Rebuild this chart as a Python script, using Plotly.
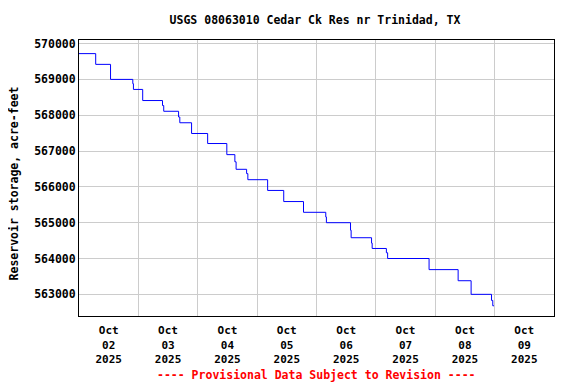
import plotly.graph_objects as go

times = [
    "2025-10-02 00:00", "2025-10-02 06:45", "2025-10-02 12:45", "2025-10-02 21:45",
    "2025-10-02 22:00", "2025-10-03 01:45", "2025-10-03 09:45", "2025-10-03 10:15",
    "2025-10-03 16:15", "2025-10-03 16:45", "2025-10-03 21:30", "2025-10-04 04:00",
    "2025-10-04 11:45", "2025-10-04 15:00", "2025-10-04 15:30", "2025-10-04 19:45",
    "2025-10-04 20:15", "2025-10-05 04:15", "2025-10-05 10:45", "2025-10-05 18:45",
    "2025-10-06 03:45", "2025-10-06 04:00", "2025-10-06 13:45", "2025-10-06 14:00",
    "2025-10-06 22:15", "2025-10-06 22:30", "2025-10-07 04:15", "2025-10-07 04:45",
    "2025-10-07 21:30", "2025-10-08 09:15", "2025-10-08 14:30", "2025-10-08 22:45",
    "2025-10-08 23:15", "2025-10-08 23:45",
]
storage = [
    569720, 569420, 569000, 568880,
    568720, 568410, 568270, 568110,
    567950, 567790, 567490, 567210,
    566900, 566700, 566490, 566370,
    566200, 565900, 565590, 565290,
    565160, 565000, 564790, 564580,
    564430, 564280, 564160, 564000,
    563690, 563380, 563000, 562830,
    562680, 562680,
]

tick_days = ["02", "03", "04", "05", "06", "07", "08", "09"]
tick_vals = [f"2025-10-{d} 12:00" for d in tick_days]
tick_text = [f"Oct<br>{d}<br>2025" for d in tick_days]
y_ticks = [563000, 564000, 565000, 566000, 567000, 568000, 569000, 570000]

FONT = "DejaVu Sans Mono"
fnt = dict(family=FONT, size=11.5, color="black", weight="bold")
xfnt = dict(family=FONT, size=11, color="black", weight="bold")

fig = go.Figure()
fig.add_trace(go.Scatter(
    x=times, y=storage, mode="lines", line=dict(color="#0000ff", width=1, shape="hv"),
    hoverinfo="x+y", showlegend=False,
))

fig.update_layout(
    width=568, height=376,
    margin=dict(l=71, r=22, t=32, b=68, autoexpand=False),
    paper_bgcolor="white", plot_bgcolor="white",
    font=fnt,
    title=dict(text="USGS 08063010 Cedar Ck Res nr Trinidad, TX", xref="container",
               x=0.5405, xanchor="center", y=0.968, yanchor="middle", font=fnt),
    xaxis=dict(
        type="date", range=["2025-10-02 00:00", "2025-10-10 00:00"],
        tickmode="array", tickvals=tick_vals, ticktext=tick_text,
        showgrid=False, ticks="", tickfont=xfnt, ticklabelstandoff=4,
        showline=True, linecolor="black", linewidth=1, mirror=True,
        minor=dict(tick0="2025-10-02", dtick=86400000, showgrid=True,
                   gridcolor="#cccccc", gridwidth=1, ticks=""),
        zeroline=False,
    ),
    yaxis=dict(
        range=[562395, 570100], tickmode="array", tickvals=y_ticks,
        ticktext=[str(v) for v in y_ticks], tickfont=fnt,
        showgrid=True, gridcolor="#cccccc", gridwidth=1, ticks="",
        showline=True, linecolor="black", linewidth=1, mirror=True,
        zeroline=False,
    ),
    annotations=[
        dict(
            text="Reservoir storage, acre-feet", xref="paper", yref="paper",
            x=-0.137, y=0.48, xanchor="center", yanchor="middle", textangle=-90,
            showarrow=False, font=fnt,
        ),
        dict(
            text="---- Provisional Data Subject to Revision ----", xref="paper", yref="paper",
            x=0.5, y=-0.2138, xanchor="center", yanchor="middle", showarrow=False,
            font=dict(family=FONT, size=11.5, color="#ff0000", weight="bold"),
        ),
    ],
)

fig.write_html("out.html")
